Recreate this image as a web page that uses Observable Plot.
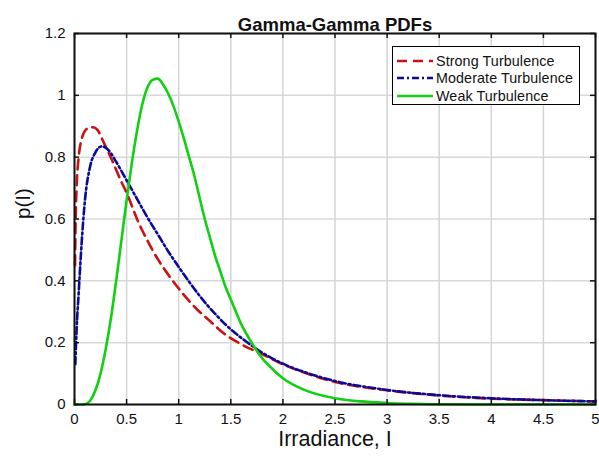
<!DOCTYPE html>
<html><head><meta charset="utf-8">
<script src="https://cdn.jsdelivr.net/npm/d3@7"></script>
<script src="https://cdn.jsdelivr.net/npm/@observablehq/plot@0.6"></script>
<style>
body{margin:0;background:#fff;font-family:"Liberation Sans",Arial,sans-serif;}
#wrap{position:relative;width:599px;height:460px;}
#legend{position:absolute;left:392px;top:46px;width:188px;height:59px;border:1px solid #000;background:#fff;box-sizing:border-box;}
.row{position:absolute;left:3px;height:17px;display:flex;align-items:center;font-size:14.3px;color:#111;white-space:nowrap;letter-spacing:0.1px;}
.row svg{margin-right:2px;}
</style></head><body><div id="wrap"></div>
<script>
const title = "Gamma-Gamma PDFs";
const xLabel = "Irradiance, I";
const yLabel = "p(I)";
const xTicks = [0, 0.5, 1, 1.5, 2, 2.5, 3, 3.5, 4, 4.5, 5];
const yTicks = [0, 0.2, 0.4, 0.6, 0.8, 1, 1.2];

const seriesNames = ["Strong Turbulence", "Moderate Turbulence", "Weak Turbulence"];
const seriesColors = ["#cc1111", "#0a0a96", "#11d011"];
const seriesDash = ["10,6", "7,3,2,3", null];

const strongI = [0.005, 0.01, 0.02, 0.04, 0.07, 0.1, 0.14, 0.18, 0.22, 0.28, 0.36, 0.45, 0.5, 0.6, 0.7, 0.8, 0.9, 1.0, 1.1, 1.2, 1.3, 1.44, 1.6, 1.8, 2.0, 2.25, 2.5, 3.0, 3.5, 4.0, 4.5, 5.0];
const strongP = [0.45, 0.58, 0.70, 0.80, 0.86, 0.885, 0.895, 0.897, 0.888, 0.848, 0.79, 0.72, 0.685, 0.60, 0.53, 0.47, 0.42, 0.375, 0.335, 0.30, 0.27, 0.228, 0.195, 0.163, 0.13, 0.098, 0.073, 0.046, 0.029, 0.019, 0.014, 0.01];

const moderateI = [0.008, 0.02, 0.04, 0.07, 0.1, 0.15, 0.2, 0.26, 0.32, 0.4, 0.5, 0.6, 0.7, 0.8, 0.9, 1.0, 1.1, 1.2, 1.35, 1.5, 1.65, 1.8, 2.0, 2.25, 2.5, 3.0, 3.5, 4.0, 4.5, 5.0];
const moderateP = [0.13, 0.24, 0.36, 0.53, 0.66, 0.77, 0.815, 0.835, 0.825, 0.785, 0.725, 0.665, 0.605, 0.55, 0.495, 0.445, 0.397, 0.352, 0.293, 0.243, 0.203, 0.168, 0.132, 0.1, 0.076, 0.047, 0.03, 0.02, 0.014, 0.01];

const weakI = [0, 0.05, 0.1, 0.15, 0.2, 0.25, 0.3, 0.35, 0.4, 0.45, 0.5, 0.55, 0.6, 0.65, 0.7, 0.75, 0.8, 0.85, 0.9, 0.95, 1.0, 1.05, 1.1, 1.15, 1.2, 1.25, 1.3, 1.35, 1.4, 1.45, 1.5, 1.6, 1.7, 1.8, 1.9, 2.0, 2.2, 2.5, 2.75, 3.0, 3.5, 4.0, 5.0];
const weakP = [0, 0, 0.001, 0.012, 0.045, 0.1, 0.18, 0.28, 0.40, 0.53, 0.66, 0.78, 0.885, 0.97, 1.025, 1.05, 1.054, 1.035, 1.005, 0.965, 0.915, 0.86, 0.80, 0.74, 0.67, 0.60, 0.54, 0.48, 0.43, 0.38, 0.34, 0.26, 0.20, 0.15, 0.115, 0.085, 0.048, 0.02, 0.01, 0.005, 0.001, 0, 0];

const toRows = (I, P) => I.map((x, i) => ({I: x, p: P[i]}));
const series = [toRows(strongI, strongP), toRows(moderateI, moderateP), toRows(weakI, weakP)];

const W = 599, H = 460, mL = 74, mR = 4, mT = 33, mB = 56;
const innerW = W - mL - mR, innerH = H - mT - mB;

const lineMarks = series.map((rows, k) => Plot.line(rows, {
  x: "I", y: "p", stroke: seriesColors[k], strokeWidth: 2.6,
  strokeDasharray: seriesDash[k] || undefined, curve: "monotone-x"
}));

const chart = Plot.plot({
  width: W, height: H, marginLeft: mL, marginRight: mR, marginTop: mT, marginBottom: mB,
  style: {fontFamily: "'Liberation Sans', Arial, sans-serif", fontSize: "15px", color: "#111", background: "#fff", overflow: "visible"},
  x: {domain: [0, 5]},
  y: {domain: [0, 1.2]},
  marks: [
    Plot.gridX(xTicks, {stroke: "#d4d4d4", strokeOpacity: 1, strokeWidth: 1.5}),
    Plot.gridY(yTicks, {stroke: "#d8d8e0", strokeOpacity: 1, strokeWidth: 1.5}),
    ...lineMarks,
    Plot.tickX(xTicks, {x: d => d, insetTop: innerH - 5, stroke: "#111", strokeWidth: 1.5}),
    Plot.tickX(xTicks, {x: d => d, insetBottom: innerH - 5, stroke: "#111", strokeWidth: 1.5}),
    Plot.tickY(yTicks, {y: d => d, insetRight: innerW - 5, stroke: "#111", strokeWidth: 1.5}),
    Plot.tickY(yTicks, {y: d => d, insetLeft: innerW - 5, stroke: "#111", strokeWidth: 1.5}),
    Plot.axisX(xTicks, {tickSize: 0, tickPadding: 9, label: null, fontSize: 15, tickFormat: d => String(d)}),
    Plot.axisY(yTicks, {tickSize: 0, tickPadding: 9, label: null, fontSize: 15, tickFormat: d => String(d)}),
    Plot.frame({stroke: "#111", strokeWidth: 2}),
    Plot.text([title], {frameAnchor: "top", dy: -16, fontWeight: "bold", fontSize: 18.5}),
    Plot.text([xLabel], {frameAnchor: "bottom", dy: 41, fontSize: 21.5}),
    Plot.text([yLabel], {frameAnchor: "left", dx: -51, rotate: -90, fontSize: 20.5})
  ]
});

const wrap = document.getElementById("wrap");
wrap.appendChild(chart);

const legend = document.createElement("div");
legend.id = "legend";
seriesNames.forEach((name, k) => {
  const row = document.createElement("div");
  row.className = "row";
  row.style.top = (5 + k * 17.5) + "px";
  row.innerHTML = `<svg width="38" height="6"><line x1="1" y1="3" x2="37" y2="3" stroke="${seriesColors[k]}" stroke-width="2.6" ${seriesDash[k] ? `stroke-dasharray="${seriesDash[k]}"` : ""}/></svg><span>${name}</span>`;
  legend.appendChild(row);
});
wrap.appendChild(legend);
</script>
</body></html>
